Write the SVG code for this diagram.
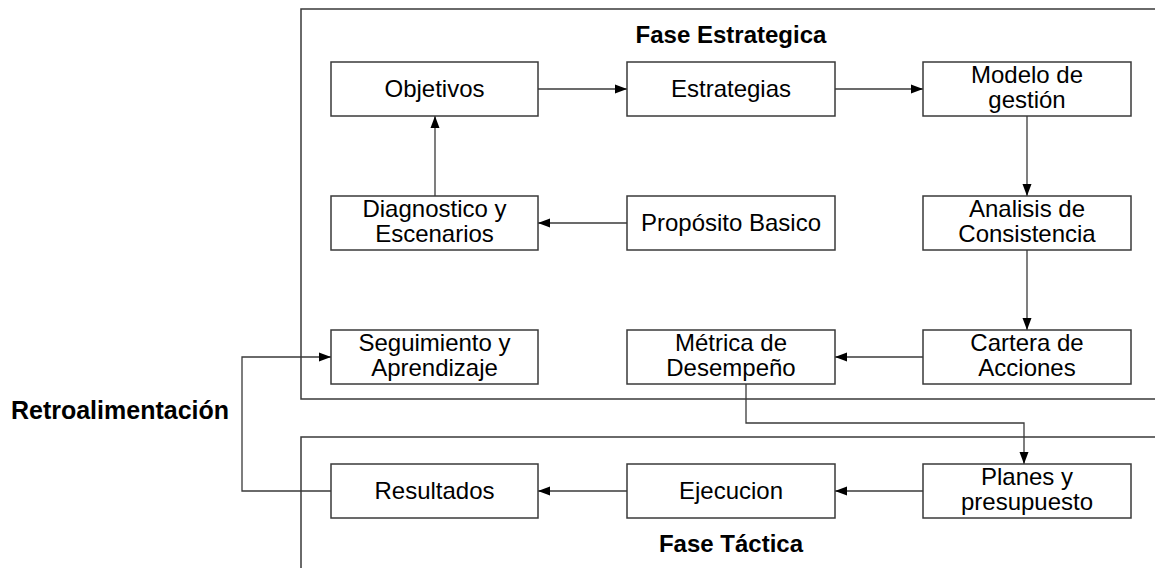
<svg xmlns="http://www.w3.org/2000/svg" width="1155" height="568" viewBox="0 0 1155 568">
<style>
.frame{fill:none;stroke:#3a3a3a;stroke-width:1.5}
.box rect{fill:#fff;stroke:#3a3a3a;stroke-width:1.5}
.box text{font-family:"Liberation Sans",Arial,sans-serif;font-size:24px;fill:#000;text-anchor:middle}
.title{font-family:"Liberation Sans",Arial,sans-serif;font-size:24px;font-weight:bold;fill:#000;text-anchor:middle}
.conn{fill:none;stroke:#3a3a3a;stroke-width:1.3;marker-end:url(#ah)}
</style>
<defs>
<marker id="ah" viewBox="0 0 12 10" refX="12" refY="5" markerWidth="12" markerHeight="10" markerUnits="userSpaceOnUse" orient="auto">
<path d="M0,0.5 L12,5 L0,9.5 Z" fill="#000"/>
</marker>
</defs>
<g id="frames">
<path class="frame" d="M1155,9 H301 V399 H1155"/>
<path class="frame" d="M1155,437 H301 V568"/>
</g>
<text class="title" x="731" y="43">Fase Estrategica</text>
<text class="title" x="731" y="552">Fase Táctica</text>
<text class="title" x="120" y="419" style="font-size:25px">Retroalimentación</text>
<g id="connectors">
<path class="conn" d="M538,89 H627"/>
<path class="conn" d="M835,89 H923"/>
<path class="conn" d="M1027,116 V196"/>
<path class="conn" d="M1027,250 V330"/>
<path class="conn" d="M923,357 H835"/>
<path class="conn" d="M627,223 H538"/>
<path class="conn" d="M435,196 V116"/>
<path class="conn" d="M746,384 V423 H1024 V464"/>
<path class="conn" d="M923,491 H835"/>
<path class="conn" d="M627,491 H538"/>
<path class="conn" d="M331,491 H242 V357 H331"/>
</g>
<g id="objetivos" class="box"><rect x="331" y="62" width="207" height="54"/><text x="434.5" y="97">Objetivos</text></g>
<g id="estrategias" class="box"><rect x="627" y="62" width="208" height="54"/><text x="731" y="97">Estrategias</text></g>
<g id="modelo" class="box"><rect x="923" y="62" width="208" height="54"/><text x="1027" y="83">Modelo de</text><text x="1027" y="108">gestión</text></g>
<g id="diagnostico" class="box"><rect x="331" y="196" width="207" height="54"/><text x="434.5" y="217">Diagnostico y</text><text x="434.5" y="242">Escenarios</text></g>
<g id="proposito" class="box"><rect x="627" y="196" width="208" height="54"/><text x="731" y="231">Propósito Basico</text></g>
<g id="analisis" class="box"><rect x="923" y="196" width="208" height="54"/><text x="1027" y="217">Analisis de</text><text x="1027" y="242">Consistencia</text></g>
<g id="seguimiento" class="box"><rect x="331" y="330" width="207" height="54"/><text x="434.5" y="351">Seguimiento y</text><text x="434.5" y="376">Aprendizaje</text></g>
<g id="metrica" class="box"><rect x="627" y="330" width="208" height="54"/><text x="731" y="351">Métrica de</text><text x="731" y="376">Desempeño</text></g>
<g id="cartera" class="box"><rect x="923" y="330" width="208" height="54"/><text x="1027" y="351">Cartera de</text><text x="1027" y="376">Acciones</text></g>
<g id="resultados" class="box"><rect x="331" y="464" width="207" height="54"/><text x="434.5" y="499">Resultados</text></g>
<g id="ejecucion" class="box"><rect x="627" y="464" width="208" height="54"/><text x="731" y="499">Ejecucion</text></g>
<g id="planes" class="box"><rect x="923" y="464" width="208" height="54"/><text x="1027" y="485">Planes y</text><text x="1027" y="510">presupuesto</text></g>
</svg>
